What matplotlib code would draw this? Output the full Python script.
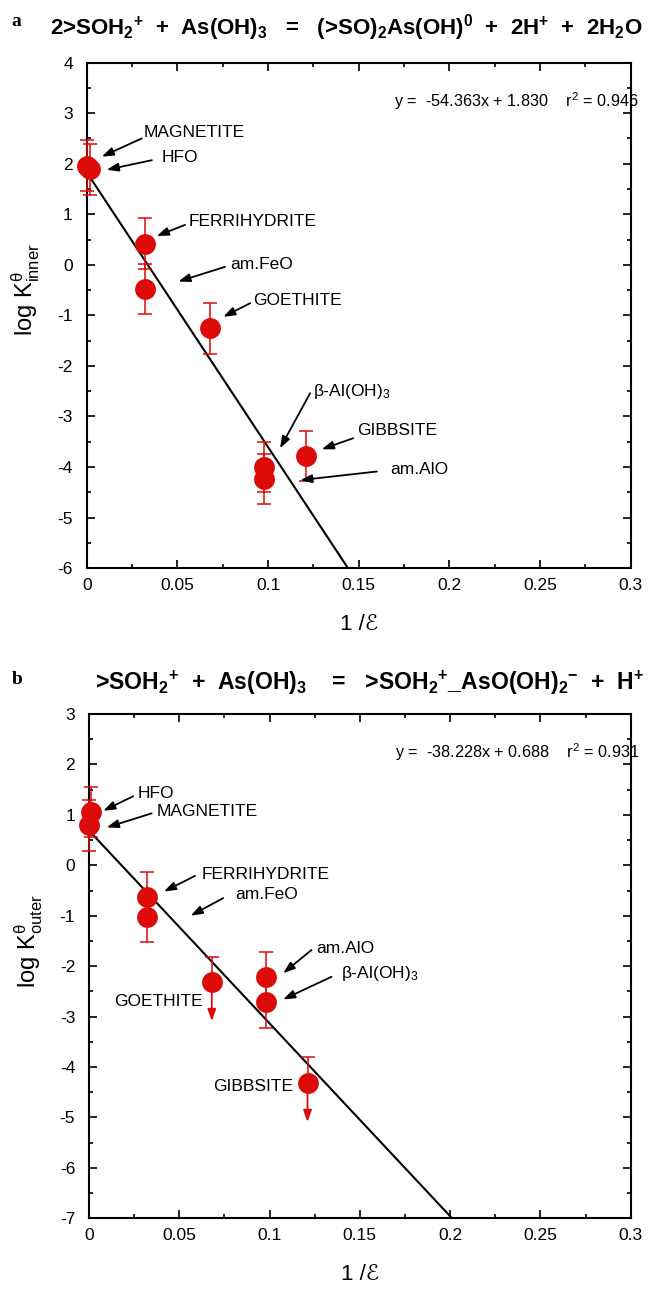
import numpy as np
import matplotlib
matplotlib.use('Agg')
import matplotlib.pyplot as plt

plt.rcParams['font.family'] = ['Liberation Sans', 'DejaVu Sans']
plt.rcParams['mathtext.fontset'] = 'custom'
plt.rcParams['mathtext.rm'] = 'Liberation Sans'
plt.rcParams['mathtext.it'] = 'Liberation Sans:italic'
plt.rcParams['mathtext.bf'] = 'Liberation Sans:bold'
plt.rcParams['axes.unicode_minus'] = False

RED = '#dd0a0a'

# inner-sphere complex, panel a
names_a = ['MAGNETITE', 'HFO', 'FERRIHYDRITE', 'am.FeO', 'GOETHITE',
           r'β-Al(OH)$_3$', 'am.AlO', 'GIBBSITE']
inv_eps_a = [0.000, 0.002, 0.032, 0.032, 0.068, 0.098, 0.098, 0.121]
logk_inner = [1.96, 1.89, 0.42, -0.48, -1.26, -4.00, -4.24, -3.78]
err_inner = [0.5, 0.5, 0.5, 0.5, 0.5, 0.5, 0.5, 0.5]
slope_a, icpt_a, r2_a = -54.363, 1.830, 0.946

# outer-sphere complex, panel b
names_b = ['HFO', 'MAGNETITE', 'FERRIHYDRITE', 'am.FeO', 'GOETHITE',
           'am.AlO', r'β-Al(OH)$_3$', 'GIBBSITE']
inv_eps_b = [0.001, 0.000, 0.032, 0.032, 0.068, 0.098, 0.098, 0.121]
logk_outer = [1.06, 0.79, -0.63, -1.03, -2.31, -2.21, -2.72, -4.31]
err_outer = [0.5, 0.5, 0.5, 0.5, 0.5, 0.5, 0.5, 0.5]
upper_limit_b = [False, False, False, False, True, False, False, True]
slope_b, icpt_b, r2_b = -38.228, 0.688, 0.931

# label placement: (text x, text y, ha, arrow tail, arrow head)
labels_a = {
    'MAGNETITE': (0.0316, 2.61, 'left', (0.0303, 2.50), (0.0083, 2.14)),
    'HFO': (0.0414, 2.13, 'left', (0.0359, 2.07), (0.0110, 1.88)),
    'FERRIHYDRITE': (0.056, 0.85, 'left', (0.0542, 0.79), (0.0386, 0.57)),
    'am.FeO': (0.079, 0.00, 'left', (0.0763, -0.04), (0.0505, -0.33)),
    'GOETHITE': (0.092, -0.70, 'left', (0.0901, -0.76), (0.0753, -1.03)),
    r'β-Al(OH)$_3$': (0.125, -2.51, 'left', (0.1232, -2.54), (0.1066, -3.63)),
    'GIBBSITE': (0.149, -3.27, 'left', (0.147, -3.43), (0.1296, -3.65)),
    'am.AlO': (0.1673, -4.05, 'left', (0.160, -4.09), (0.1177, -4.26)),
}
labels_b = {
    'HFO': (0.0271, 1.42, 'left', (0.0245, 1.37), (0.0079, 1.08)),
    'MAGNETITE': (0.0376, 1.06, 'left', (0.0347, 1.03), (0.0098, 0.75)),
    'FERRIHYDRITE': (0.0624, -0.19, 'left', (0.0587, -0.21), (0.0415, -0.52)),
    'am.FeO': (0.0808, -0.57, 'left', (0.0743, -0.65), (0.0563, -1.00)),
    'GOETHITE': (0.0631, -2.70, 'right', None, None),
    'am.AlO': (0.126, -1.65, 'left', (0.1232, -1.68), (0.1075, -2.14)),
    r'β-Al(OH)$_3$': (0.1398, -2.14, 'left', (0.1343, -2.21), (0.1075, -2.66)),
    'GIBBSITE': (0.113, -4.39, 'right', None, None),
}

ARROW = '-|>,head_length=0.7,head_width=0.25'


def style_axes(ax, ymin, ymax):
    ax.set_xlim(0, 0.3)
    ax.set_ylim(ymin, ymax)
    ax.set_xticks(np.arange(0, 0.301, 0.05))
    ax.set_xticklabels(['0', '0.05', '0.1', '0.15', '0.2', '0.25', '0.3'])
    ax.set_xticks(np.arange(0, 0.301, 0.025), minor=True)
    ax.set_yticks(np.arange(ymin, ymax + 1))
    ax.set_yticks(np.arange(ymin, ymax + 0.5, 0.5), minor=True)
    ax.tick_params(which='both', direction='in', top=True, right=True,
                   labelsize=12.5, width=1.2)
    ax.tick_params(axis='y', pad=10)
    ax.tick_params(axis='x', pad=7)
    ax.tick_params(which='major', length=6)
    ax.tick_params(which='minor', length=3)
    for s in ax.spines.values():
        s.set_linewidth(1.5)


def draw_panel(ax, x, y, err, slope, icpt, r2, labels, names, ymin, ymax,
               ylab, limits=None):
    style_axes(ax, ymin, ymax)
    # regression line, stopped at the bottom of the frame
    x_end = (ymin - icpt) / slope
    xs = np.array([0, x_end])
    ax.plot(xs, slope * xs + icpt, color='black', lw=1.5, zorder=2)

    for i in range(len(x)):
        if limits is not None and limits[i]:
            eb = ax.errorbar(x[i], y[i], yerr=[[0], [err[i]]], fmt='none',
                             ecolor=RED, elinewidth=1.1, capsize=5,
                             capthick=1.1, zorder=3)
            ax.annotate('', xy=(x[i], y[i] - 0.78), xytext=(x[i], y[i]),
                        arrowprops=dict(arrowstyle=ARROW, color=RED, lw=1.3,
                                        shrinkA=0, shrinkB=0),
                        zorder=3)
        else:
            eb = ax.errorbar(x[i], y[i], yerr=err[i], fmt='none', ecolor=RED,
                             elinewidth=1.1, capsize=5, capthick=1.1,
                             zorder=3)
        for art in eb.lines[1] + eb.lines[2]:
            art.set_clip_on(False)
    ax.plot(x, y, 'o', color=RED, markersize=15, markeredgewidth=0,
            zorder=4, clip_on=False)

    for name in names:
        tx, ty, ha, tail, head = labels[name]
        ax.text(tx, ty, name, fontsize=12.5, ha=ha, va='center')
        if tail is not None:
            ax.annotate('', xy=head, xytext=tail,
                        arrowprops=dict(arrowstyle=ARROW, color='black',
                                        lw=1.3, shrinkA=0, shrinkB=0))

    ax.text(0.1695, ymax - 0.76,
            f'y =  {slope:.3f}x + {icpt:.3f}    r$^2$ = {r2:.3f}',
            fontsize=11.7, ha='left', va='center')
    ax.set_ylabel(ylab, fontsize=17)
    ax.yaxis.set_label_coords(-0.082, 0.55)
    ax.set_xlabel('1 /ℰ', fontsize=16, labelpad=15,
                  family=['Liberation Sans', 'DejaVu Sans'])


fig = plt.figure(figsize=(6.57, 12.89), dpi=100)

ax_a = fig.add_axes([0.132, 0.5593, 0.828, 0.3921])
draw_panel(ax_a, inv_eps_a, logk_inner, err_inner, slope_a, icpt_a, r2_a,
           labels_a, names_a, -6, 4, r'log K$^{\mathrm{θ}}_{\mathrm{inner}}$')

ax_b = fig.add_axes([0.1355, 0.0548, 0.8245, 0.3913])
draw_panel(ax_b, inv_eps_b, logk_outer, err_outer, slope_b, icpt_b, r2_b,
           labels_b, names_b, -7, 3, r'log K$^{\mathrm{θ}}_{\mathrm{outer}}$',
           limits=upper_limit_b)

fig.text(0.018, 0.983, 'a', family='Liberation Serif', weight='bold',
         fontsize=14, va='center')
fig.text(0.076, 0.979,
         r'2>SOH$_\mathbf{2}$$^\mathbf{+}$  +  As(OH)$_\mathbf{3}$   =   '
         r'(>SO)$_\mathbf{2}$As(OH)$^\mathbf{0}$  +  2H$^\mathbf{+}$  +  2H$_\mathbf{2}$O',
         weight='bold', fontsize=16, va='center')

fig.text(0.018, 0.473, 'b', family='Liberation Serif', weight='bold',
         fontsize=14, va='center')
fig.text(0.145, 0.470,
         r'>SOH$_\mathbf{2}$$^\mathbf{+}$  +  As(OH)$_\mathbf{3}$    =   '
         r'>SOH$_\mathbf{2}$$^\mathbf{+}$_AsO(OH)$_\mathbf{2}$$^\mathbf{-}$  +  H$^\mathbf{+}$',
         weight='bold', fontsize=16.6, va='center')

fig.savefig('out.png', dpi=100)
